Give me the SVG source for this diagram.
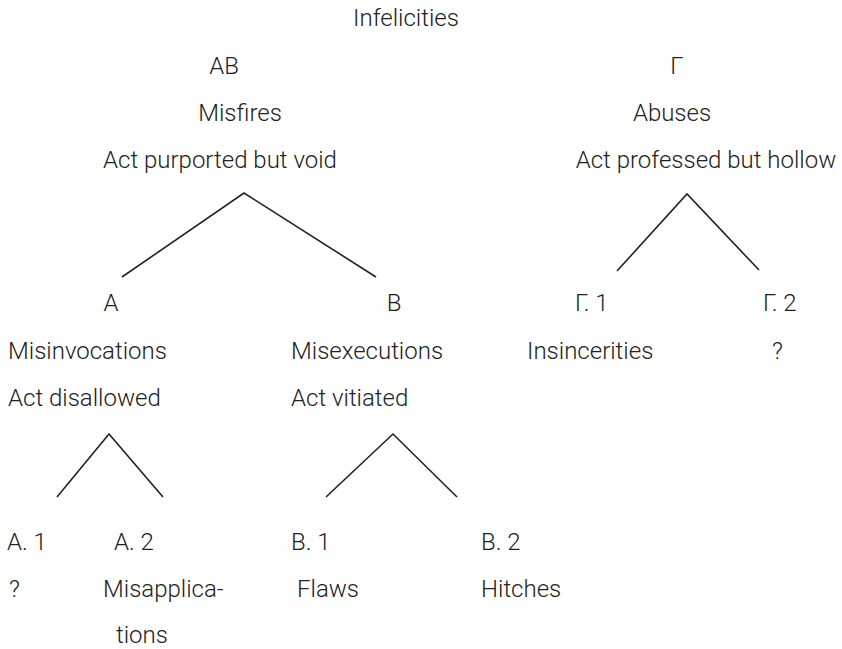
<svg xmlns="http://www.w3.org/2000/svg" width="842" height="649" viewBox="0 0 842 649">
<style>
text{font-family:Roboto,"Noto Sans","Liberation Sans",sans-serif;font-weight:300;font-size:24px;fill:#222}
.c{stroke:#222;stroke-width:1.6;fill:none}
</style>
<rect width="842" height="649" fill="#fff"/>
<g id="connectors">
<polyline class="c" points="122,277 244,193 376,277"/>
<polyline class="c" points="617,271 687,194 759,270"/>
<polyline class="c" points="57,497 109,434 163,497"/>
<polyline class="c" points="326,497 393,434 457,497"/>
</g>
<g id="root"><text x="406" y="26" text-anchor="middle">Infelicities</text></g>
<g id="AB">
<text x="224" y="74" text-anchor="middle">AB</text>
<text x="240" y="121" text-anchor="middle">Misfires</text>
<text x="220" y="168" text-anchor="middle">Act purported but void</text>
</g>
<g id="G">
<text x="677" y="74" text-anchor="middle">Γ</text>
<text x="672" y="121" text-anchor="middle">Abuses</text>
<text x="706" y="168" text-anchor="middle">Act professed but hollow</text>
</g>
<g id="A">
<text x="111" y="311" text-anchor="middle">A</text>
<text x="8" y="359">Misinvocations</text>
<text x="8" y="406">Act disallowed</text>
</g>
<g id="B">
<text x="394" y="311" text-anchor="middle">B</text>
<text x="291" y="359">Misexecutions</text>
<text x="291" y="406">Act vitiated</text>
</g>
<g id="G1">
<text x="575" y="311">Γ. 1</text>
<text x="527" y="359">Insincerities</text>
</g>
<g id="G2">
<text x="763" y="311">Γ. 2</text>
<text x="772" y="359">?</text>
</g>
<g id="A1">
<text x="7" y="550">A. 1</text>
<text x="9" y="597">?</text>
</g>
<g id="A2">
<text x="114" y="550">A. 2</text>
<text x="103" y="597">Misapplica-</text>
<text x="116" y="643">tions</text>
</g>
<g id="B1">
<text x="291" y="550">B. 1</text>
<text x="297" y="597">Flaws</text>
</g>
<g id="B2">
<text x="481" y="550">B. 2</text>
<text x="481" y="597">Hitches</text>
</g>
</svg>
